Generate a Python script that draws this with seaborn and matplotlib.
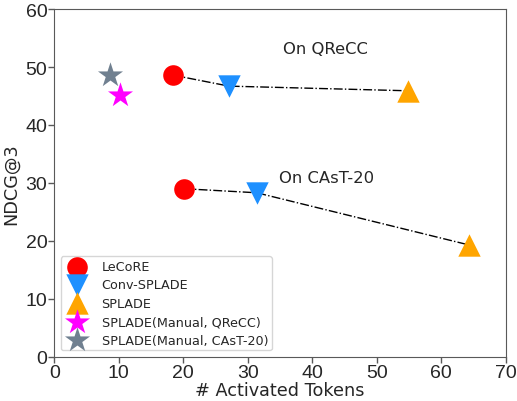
import pandas as pd
import matplotlib
matplotlib.use("Agg")
import matplotlib.pyplot as plt
import seaborn as sns

# data
methods = ["LeCoRE", "Conv-SPLADE", "SPLADE"]
qrecc_tokens = [18.4, 27.1, 54.8]
qrecc_ndcg = [48.6, 46.7, 45.9]
cast_tokens = [20.1, 31.4, 64.3]
cast_ndcg = [29.0, 28.3, 19.3]
manual_labels = ["SPLADE(Manual, QReCC)", "SPLADE(Manual, CAsT-20)"]
manual_tokens = [10.2, 8.7]
manual_ndcg = [45.2, 48.6]

colors = {"LeCoRE": "red", "Conv-SPLADE": "dodgerblue", "SPLADE": "orange",
          "SPLADE(Manual, QReCC)": "magenta", "SPLADE(Manual, CAsT-20)": "slategray"}
markers = {"LeCoRE": "o", "Conv-SPLADE": "v", "SPLADE": "^",
           "SPLADE(Manual, QReCC)": "*", "SPLADE(Manual, CAsT-20)": "*"}
sizes = {"LeCoRE": 220, "Conv-SPLADE": 260, "SPLADE": 260,
         "SPLADE(Manual, QReCC)": 360, "SPLADE(Manual, CAsT-20)": 360}

df = pd.DataFrame({
    "method": methods + methods + manual_labels,
    "tokens": qrecc_tokens + cast_tokens + manual_tokens,
    "ndcg": qrecc_ndcg + cast_ndcg + manual_ndcg,
})

sns.set_style("ticks")
plt.rcParams["axes.edgecolor"] = "0.35"
# tick labels use an Arial-like face, everything else DejaVu
plt.rcParams["font.family"] = ["Liberation Sans"]
dv = "DejaVu Sans"

fig, ax = plt.subplots(figsize=(5.17, 4.02), dpi=100)

# dash-dot connecting lines per dataset
sns.lineplot(x=qrecc_tokens, y=qrecc_ndcg, ax=ax, color="black", linestyle="-.",
             linewidth=1, sort=False, zorder=1)
sns.lineplot(x=cast_tokens, y=cast_ndcg, ax=ax, color="black", linestyle="-.",
             linewidth=1, sort=False, zorder=1)

order = methods + manual_labels
for m in order:
    sub = df[df["method"] == m]
    sns.scatterplot(data=sub, x="tokens", y="ndcg", ax=ax, color=colors[m],
                    marker=markers[m], s=sizes[m], linewidth=0, label=m, zorder=3)

ax.text(35.5, 53.2, "On QReCC", fontsize=11.8, family=dv, va="center")
ax.text(34.8, 31.0, "On CAsT-20", fontsize=11.8, family=dv, va="center")

ax.set_xlim(0, 70)
ax.set_ylim(0, 60)
ax.set_xticks(range(0, 71, 10))
ax.set_yticks(range(0, 61, 10))
ax.tick_params(length=4, width=1, color="0.35", pad=1, labelsize=14)
ax.set_xlabel("# Activated Tokens", fontsize=12.7, family=dv, labelpad=0)
ax.set_ylabel("NDCG@3", fontsize=12.7, family=dv, labelpad=4)

ax.legend(loc="lower left", markerscale=1.0, handletextpad=0.9, borderpad=0.3,
          labelspacing=0.42, frameon=True, prop={"family": dv, "size": 9.2})

fig.subplots_adjust(left=0.105, right=0.978, top=0.975, bottom=0.11)
fig.savefig("out.png", dpi=100)
